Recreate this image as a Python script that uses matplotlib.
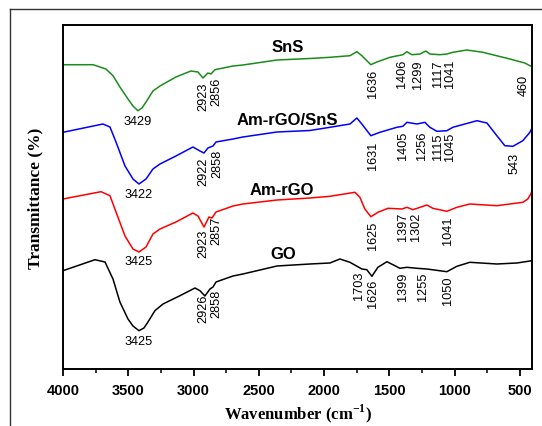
import matplotlib.pyplot as plt
from matplotlib.lines import Line2D
from matplotlib.ticker import MultipleLocator

plt.rcParams['mathtext.fontset'] = 'custom'
plt.rcParams['mathtext.rm'] = 'Liberation Serif:bold'
plt.rcParams['mathtext.bf'] = 'Liberation Serif:bold'

# FTIR spectra, wavenumber (cm-1) vs transmittance (offset, arb. units)
sns_w = [4000, 3770, 3671, 3617, 3564, 3502, 3464, 3426, 3395, 3364, 3311,
         3257, 3135, 3020, 2966, 2928, 2890, 2867, 2836, 2698, 2622, 2361,
         2109, 1956, 1802, 1749, 1711, 1642, 1596, 1496, 1397, 1366, 1328,
         1266, 1221, 1190, 1113, 1060, 1014, 907, 784, 577, 463, 424, 408]
sns_t = [304.3, 304.3, 300, 293.3, 282, 270, 263, 258.3, 261, 267, 278,
         283, 292, 298, 297, 291, 296, 295, 299.3, 303, 304, 309,
         310.5, 311.7, 313.3, 317.3, 313.3, 304.3, 307, 311.7, 314.3, 317.3, 314.3,
         315, 318, 315, 314.3, 315, 316.7, 319, 316.7, 310, 306, 303.3, 302.5]

comp_w = [4000, 3694, 3640, 3594, 3525, 3464, 3418, 3364, 3311, 3257, 3135,
          3005, 2951, 2920, 2890, 2851, 2828, 2698, 2622, 2361, 2109, 1956,
          1802, 1749, 1711, 1642, 1573, 1443, 1397, 1366, 1289, 1228, 1190,
          1136, 1060, 1014, 830, 753, 677, 616, 554, 478, 424, 408]
comp_t = [236.7, 245, 242, 227, 203, 190, 185, 190, 200, 205, 213,
          222, 218, 216, 221, 223, 227, 230, 232, 237, 238.5, 241.7,
          245, 251, 245, 233.3, 236.7, 241.7, 242.7, 246.7, 245, 246.7, 241.7,
          237.7, 238.3, 241.7, 248.3, 246, 233.3, 223.3, 222.7, 228.3, 236.7, 241]

amrgo_w = [4000, 3709, 3640, 3594, 3525, 3464, 3418, 3364, 3311, 3257, 3135,
           3005, 2966, 2920, 2882, 2859, 2828, 2698, 2622, 2361, 2109, 1956,
           1764, 1726, 1688, 1642, 1588, 1511, 1404, 1366, 1320, 1213, 1167,
           1060, 983, 884, 677, 478, 440, 417, 408]
amrgo_t = [170, 177.3, 173.3, 157, 133, 120, 117, 122, 135, 140, 147,
           156, 153, 142, 152, 151, 157, 163, 165, 169, 171, 172.7,
           176.7, 171.7, 160, 152.3, 156.7, 160.7, 160, 161.7, 159.3, 164, 160.7,
           157.7, 161.7, 165, 163.3, 166.7, 170, 175, 178]

go_w = [4000, 3755, 3678, 3617, 3564, 3502, 3464, 3418, 3380, 3349, 3296,
        3234, 3104, 2989, 2951, 2913, 2874, 2851, 2828, 2698, 2622, 2361,
        2109, 1956, 1879, 1802, 1711, 1673, 1634, 1588, 1519, 1458, 1420,
        1366, 1289, 1213, 1060, 983, 884, 677, 524, 408]
go_t = [98.3, 109.3, 107, 90, 67, 50, 43, 38.3, 41, 47, 58.3,
        65, 73.3, 81, 78.3, 73, 80, 82, 87, 93, 95, 103,
        105, 106, 110, 106.7, 100, 99.3, 92.7, 101.7, 107.3, 103.3, 100.7,
        101.7, 100.7, 100, 97.3, 102.7, 106.7, 105, 106, 108.3]

# sample names: (text, x, y)
names = [('SnS', 2277, 323), ('Am-rGO/SnS', 2285, 250),
         ('Am-rGO', 2323, 180), ('GO', 2315, 115)]
# horizontal O-H band labels
oh_labels = [('3429', 3426, 248), ('3422', 3418, 175),
             ('3425', 3418, 108), ('3425', 3418, 28)]
# rotated peak labels: (text, x, top y)
peak_labels = [
    ('2923', 2928, 287), ('2856', 2828, 292), ('1636', 1626, 300),
    ('1406', 1404, 310), ('1299', 1282, 310), ('1117', 1129, 310),
    ('1041', 1037, 310), ('460', 470, 295),
    ('2922', 2928, 213), ('2858', 2821, 220), ('1631', 1626, 228),
    ('1405', 1397, 238), ('1256', 1251, 238), ('1115', 1129, 237),
    ('1045', 1037, 237), ('543', 539, 217),
    ('2923', 2928, 140), ('2857', 2828, 153), ('1625', 1626, 148),
    ('1397', 1397, 157), ('1302', 1297, 157), ('1041', 1052, 153),
    ('2926', 2928, 75), ('2858', 2828, 80), ('1703', 1734, 98),
    ('1626', 1626, 90), ('1399', 1397, 97), ('1255', 1243, 97),
    ('1050', 1052, 93),
]

fig = plt.figure(figsize=(5.42, 4.27), dpi=100)
ax = fig.add_axes([0.1162, 0.1335, 0.8653, 0.8056])

ax.plot(sns_w, sns_t, color='#1a8c1a', lw=1.1)
ax.plot(comp_w, comp_t, color='#0000ff', lw=1.1)
ax.plot(amrgo_w, amrgo_t, color='#ff0000', lw=1.1)
ax.plot(go_w, go_t, color='black', lw=1.1)

ax.set_xlim(4000, 408)
ax.set_ylim(0, 344)

for txt, x, y in names:
    ax.text(x, y, txt, ha='center', va='center', fontsize=12,
            fontweight='bold', family='Liberation Sans')
for txt, x, y in oh_labels:
    ax.text(x, y, txt, ha='center', va='center', fontsize=9.2,
            family='Liberation Sans')
for txt, x, y in peak_labels:
    ax.text(x, y, txt, ha='center', va='top', rotation=90, fontsize=9.2,
            family='Liberation Sans')

ax.xaxis.set_major_locator(MultipleLocator(500))
ax.xaxis.set_minor_locator(MultipleLocator(250))
ax.tick_params(axis='x', which='major', direction='out', length=5, width=1.3,
               pad=5)
ax.tick_params(axis='x', which='minor', direction='out', length=3, width=1.1)
ax.tick_params(axis='y', left=False, labelleft=False)
ax.tick_params(top=False, right=False)
for lab in ax.get_xticklabels():
    lab.set_fontweight('bold')
    lab.set_fontsize(10.5)
    lab.set_family('Liberation Sans')
for sp in ax.spines.values():
    sp.set_linewidth(1.4)

ax.set_xlabel('Wavenumber (cm$^{\\mathrm{-1}}$)', family='Liberation Serif',
              fontweight='bold', fontsize=12, labelpad=3)
ax.set_ylabel('Transmittance (%)', family='Liberation Serif',
              fontweight='bold', fontsize=12.5, labelpad=14)

# outer frame of the original figure
fig.add_artist(Line2D([0.0185, 0.0185], [0.0, 0.9766], color='#333333', lw=1))
fig.add_artist(Line2D([0.0185, 1.0], [0.9766, 0.9766], color='#333333', lw=1))

plt.savefig('out.png', dpi=100)
